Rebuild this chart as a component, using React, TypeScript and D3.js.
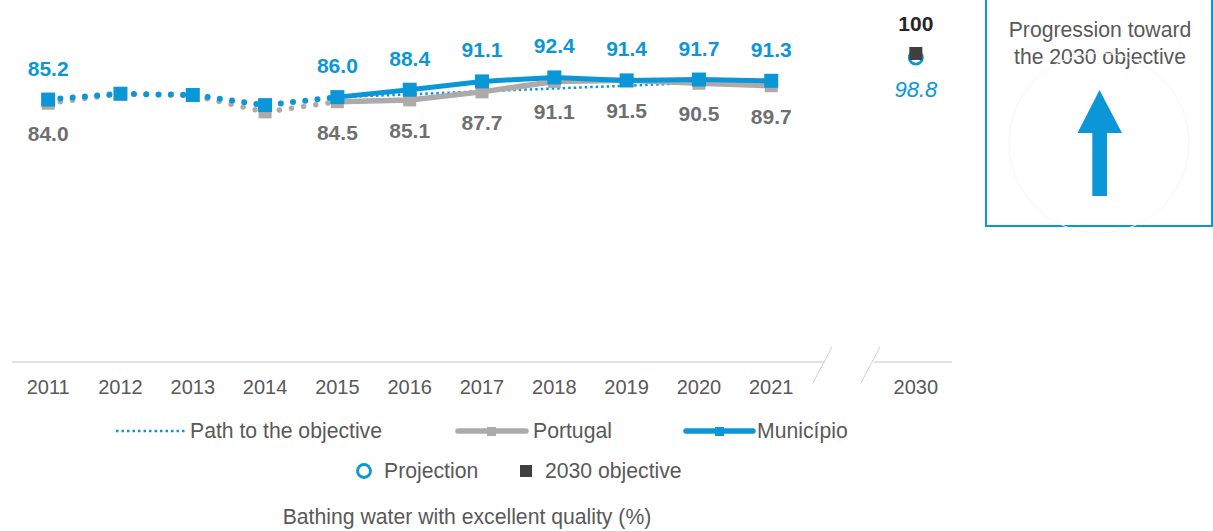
import React, { useEffect } from "react";
import * as d3 from "d3";

const years = ["2011", "2012", "2013", "2014", "2015", "2016", "2017", "2018", "2019", "2020", "2021"];
const slots = [...years, "gap", "2030"];
const municipio = [85.2, 87.1, 86.7, 83.4, 86.0, 88.4, 91.1, 92.4, 91.4, 91.7, 91.3];
const portugal = [84.0, 87.0, 86.5, 81.2, 84.5, 85.1, 87.7, 91.1, 91.5, 90.5, 89.7];
const pathYears = ["2015", "2016", "2017", "2018", "2019", "2020", "2021"];
const pathValues = [86.0, 86.9, 87.9, 88.8, 89.7, 90.7, 91.6];
const labeledYears = ["2011", "2015", "2016", "2017", "2018", "2019", "2020", "2021"];
const projectionValue = 98.8;
const objectiveValue = 100;
const targetYear = "2030";
const historicEnd = "2015";

const BLUE = "#0b97d7";
const GRAY_LINE = "#aeaaa9";
const GRAY_TEXT = "#6f6f6f";
const AXIS_TEXT = "#595959";
const DARK = "#404040";
const FONT = "'Liberation Sans', Arial, sans-serif";
const TXT = 21.2;

export default function App() {
  useEffect(() => {
    document.body.style.margin = "0";
  }, []);

  const W = 1213;
  const H = 531;
  const x = d3.scalePoint<string>().domain(slots).range([12, 952]).padding(0.5);
  const y = d3.scaleLinear().domain([0, 100]).range([362, 54]);

  const pts = (vals: number[], keys: string[]) => keys.map((k, i) => [x(k) as number, y(vals[i])] as [number, number]);
  const line = d3.line<[number, number]>().x((d) => d[0]).y((d) => d[1]);

  const endIdx = years.indexOf(historicEnd);
  const muniPts = pts(municipio, years);
  const portPts = pts(portugal, years);
  const pathPts = pts(pathValues, pathYears);

  const axisY = y(0);
  const breakL = 825;
  const breakR = 874;

  return (
    <svg width={W} height={H} style={{ position: "absolute", left: 0, top: 0, fontFamily: FONT }}>
      {/* axis */}
      <line x1={12} x2={breakL} y1={axisY} y2={axisY} stroke="#d9d9d9" strokeWidth={1.5} />
      <line x1={breakR} x2={952} y1={axisY} y2={axisY} stroke="#d9d9d9" strokeWidth={1.5} />
      <line x1={813} y1={383} x2={832} y2={347} stroke="#d0d0d0" strokeWidth={1} />
      <line x1={861} y1={383} x2={880} y2={347} stroke="#d0d0d0" strokeWidth={1} />
      {[...years, targetYear].map((yr) => (
        <text key={yr} x={x(yr)} y={394} textAnchor="middle" fontSize={20} fill={AXIS_TEXT}>
          {yr}
        </text>
      ))}

      {/* path to the objective */}
      <path d={line(pathPts) || ""} fill="none" stroke={BLUE} strokeWidth={2.5} strokeDasharray="2.5 3" />

      {/* Portugal */}
      <path d={line(portPts.slice(0, endIdx + 1)) || ""} fill="none" stroke={GRAY_LINE} strokeWidth={5.5}
        strokeDasharray="0 12.3" strokeLinecap="round" />
      <path d={line(portPts.slice(endIdx)) || ""} fill="none" stroke={GRAY_LINE} strokeWidth={5.5} strokeLinejoin="round" />
      {portPts.map((p, i) => (
        <rect key={"pm" + i} x={p[0] - 6.5} y={p[1] - 6.5} width={13} height={13} fill={GRAY_LINE} />
      ))}

      {/* Municipio */}
      <path d={line(muniPts.slice(0, endIdx + 1)) || ""} fill="none" stroke={BLUE} strokeWidth={6}
        strokeDasharray="0 12.3" strokeLinecap="round" />
      <path d={line(muniPts.slice(endIdx)) || ""} fill="none" stroke={BLUE} strokeWidth={5} strokeLinejoin="round" />
      {muniPts.map((p, i) => (
        <rect key={"mm" + i} x={p[0] - 7} y={p[1] - 7} width={14} height={14} fill={BLUE} />
      ))}

      {/* labels */}
      {years.map((yr, i) =>
        labeledYears.includes(yr) ? (
          <g key={"lab" + yr}>
            <text x={x(yr)} y={y(municipio[i]) - 24} textAnchor="middle" fontSize={21} fontWeight="bold" fill={BLUE}>
              {municipio[i].toFixed(1)}
            </text>
            <text x={x(yr)} y={y(portugal[i]) + 38} textAnchor="middle" fontSize={21} fontWeight="bold" fill={GRAY_TEXT}>
              {portugal[i].toFixed(1)}
            </text>
          </g>
        ) : null
      )}

      {/* 2030 */}
      <circle cx={x(targetYear)} cy={y(projectionValue)} r={6.5} fill="white" stroke={BLUE} strokeWidth={2.8} />
      <rect x={(x(targetYear) as number) - 6.5} y={y(objectiveValue) - 7} width={13} height={13} fill={DARK} />
      <text x={x(targetYear)} y={y(objectiveValue) - 23} textAnchor="middle" fontSize={21} fontWeight="bold" fill="#262626">
        {String(objectiveValue)}
      </text>
      <text x={x(targetYear)} y={y(projectionValue) + 39} textAnchor="middle" fontSize={22} fontStyle="italic" fill={BLUE}>
        {projectionValue.toFixed(1)}
      </text>

      {/* side box */}
      <rect x={986} y={-2} width={226} height={228} fill="white" stroke={BLUE} strokeWidth={2} />
      <text x={1100} y={37} textAnchor="middle" fontSize={TXT} fill={AXIS_TEXT}>Progression toward</text>
      <text x={1100} y={64} textAnchor="middle" fontSize={TXT} fill={AXIS_TEXT}>the 2030 objective</text>
      <circle cx={1099} cy={143} r={90} fill="none" stroke="#f6f6f6" strokeWidth={1} />
      <polygon points="1099.5,90 1122,133 1107,133 1107,196 1092.3,196 1092.3,133 1077.5,133" fill={BLUE} />

      {/* legend */}
      <line x1={116} x2={185} y1={431} y2={431} stroke={BLUE} strokeWidth={2.5} strokeDasharray="2.5 3" />
      <text x={190} y={438} fontSize={TXT} fill={AXIS_TEXT}>Path to the objective</text>
      <line x1={458} x2={526} y1={431} y2={431} stroke={GRAY_LINE} strokeWidth={5.5} strokeLinecap="round" />
      <rect x={487} y={427} width={9} height={9} fill={GRAY_LINE} />
      <text x={533} y={438} fontSize={TXT} fill={AXIS_TEXT}>Portugal</text>
      <line x1={686} x2={753} y1={431} y2={431} stroke={BLUE} strokeWidth={5.5} strokeLinecap="round" />
      <rect x={715} y={427} width={9} height={9} fill={BLUE} />
      <text x={757} y={438} fontSize={TXT} fill={AXIS_TEXT}>Município</text>

      <circle cx={364} cy={471} r={6.5} fill="white" stroke={BLUE} strokeWidth={2.8} />
      <text x={384} y={478} fontSize={TXT} fill={AXIS_TEXT}>Projection</text>
      <rect x={520} y={465} width={12} height={12} fill={DARK} />
      <text x={545} y={478} fontSize={TXT} fill={AXIS_TEXT}>2030 objective</text>

      <text x={467} y={524} textAnchor="middle" fontSize={TXT} fill={AXIS_TEXT}>
        Bathing water with excellent quality (%)
      </text>
    </svg>
  );
}
